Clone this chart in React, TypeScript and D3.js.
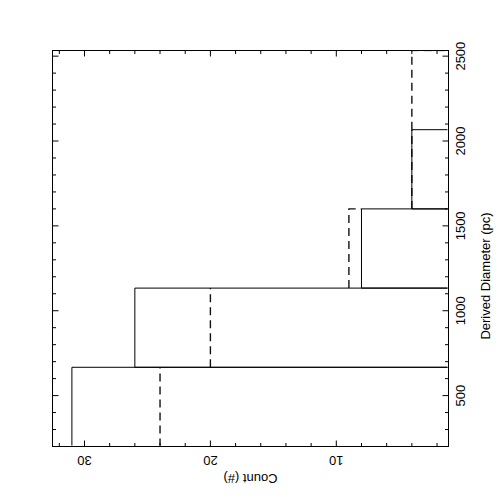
import React from "react";
import * as d3 from "d3";

// Histogram bin edges (Derived Diameter, pc)
const binEdges = [200, 666.7, 1133.3, 1600, 2066.7, 2533.3];
// Counts per bin
const solidCounts = [31, 26, 8, 4, 0];
const dashedCounts = [24, 20, 9, 4, 4];
// Tick labels
const countTicks = [30, 20, 10];
const countMinorTicks = [32, 30, 28, 26, 24, 22, 20, 18, 16, 14, 12, 10, 8, 6, 4, 2];
const diameterTicks = [500, 1000, 1500, 2000, 2500];
const diameterMinorTicks = d3.range(300, 2501, 100);

const W = 500;
const H = 498;
const L = 52.5, R = 448.5, T = 50.5, B = 446.5;

export default function App() {
  const x = d3.scaleLinear().domain([32.54, 1.09]).range([L, R]);
  const y = d3.scaleLinear().domain([200, 2533.3]).range([B, T]);
  const font = "'Liberation Sans', Arial, Helvetica, sans-serif";

  const solidPath = (c: number, i: number) => {
    const p = d3.path();
    p.moveTo(x(0), y(binEdges[i]));
    p.lineTo(x(c), y(binEdges[i]));
    p.lineTo(x(c), y(binEdges[i + 1]));
    p.lineTo(x(0), y(binEdges[i + 1]));
    return p.toString();
  };

  const dashedPath = (c: number, i: number) => {
    const p = d3.path();
    p.moveTo(x(c), y(binEdges[i]));
    p.lineTo(x(c), y(binEdges[i + 1]));
    if (c > solidCounts[i]) p.lineTo(x(solidCounts[i]), y(binEdges[i + 1]));
    return p.toString();
  };

  return (
    <svg
      width={W}
      height={H}
      style={{ position: "fixed", left: 0, top: 0, background: "#fff" }}
      fontFamily={font}
    >
      <defs>
        <clipPath id="plotClip">
          <rect x={L + 1} y={T + 1} width={R - L - 2} height={B - T - 2} />
        </clipPath>
      </defs>
      <rect width={W} height={H} fill="#fff" />
      <g clipPath="url(#plotClip)" fill="none">
        {dashedCounts.map((c, i) =>
          c > 0 ? (
            <path key={"d" + i} d={dashedPath(c, i)} stroke="#111" strokeWidth={1.4} strokeDasharray="8,5" />
          ) : null
        )}
        {solidCounts.map((c, i) =>
          c > 0 ? <path key={"s" + i} d={solidPath(c, i)} stroke="#000" strokeWidth={1} /> : null
        )}
      </g>
      {/* frame */}
      <rect x={L} y={T} width={R - L} height={B - T} fill="none" stroke="#000" strokeWidth={1} />
      {/* count ticks (top & bottom) */}
      {countMinorTicks.map((t) => (
        <g key={"cm" + t} stroke="#000" strokeWidth={1}>
          <line x1={x(t)} x2={x(t)} y1={B} y2={B - (countTicks.includes(t) ? 6 : 3.5)} />
          <line x1={x(t)} x2={x(t)} y1={T} y2={T + (countTicks.includes(t) ? 6 : 3.5)} />
        </g>
      ))}
      {/* diameter ticks (left & right) */}
      {diameterMinorTicks.map((t) => (
        <g key={"dm" + t} stroke="#000" strokeWidth={1}>
          <line x1={R} x2={R - (diameterTicks.includes(t) ? 6 : 3.5)} y1={y(t)} y2={y(t)} />
          <line x1={L} x2={L + (diameterTicks.includes(t) ? 6 : 3.5)} y1={y(t)} y2={y(t)} />
        </g>
      ))}
      {/* count tick labels, upside down */}
      {countTicks.map((t) => (
        <text
          key={"cl" + t}
          transform={`translate(${x(t)},${456}) rotate(180)`}
          textAnchor="middle"
          fontSize={13}
          fill="#000"
        >
          {t}
        </text>
      ))}
      <text
        transform={`translate(${(L + R) / 2},${474}) rotate(180)`}
        textAnchor="middle"
        fontSize={13}
        fill="#000"
      >
        Count  (#)
      </text>
      {/* diameter tick labels, rotated */}
      {diameterTicks.map((t) => (
        <text
          key={"dl" + t}
          transform={`translate(${465},${y(t)}) rotate(-90)`}
          textAnchor="middle"
          fontSize={13}
          fill="#000"
        >
          {t}
        </text>
      ))}
      <text
        transform={`translate(${490},${276}) rotate(-90)`}
        textAnchor="middle"
        fontSize={13}
        fill="#000"
      >
        Derived  Diameter  (pc)
      </text>
    </svg>
  );
}
